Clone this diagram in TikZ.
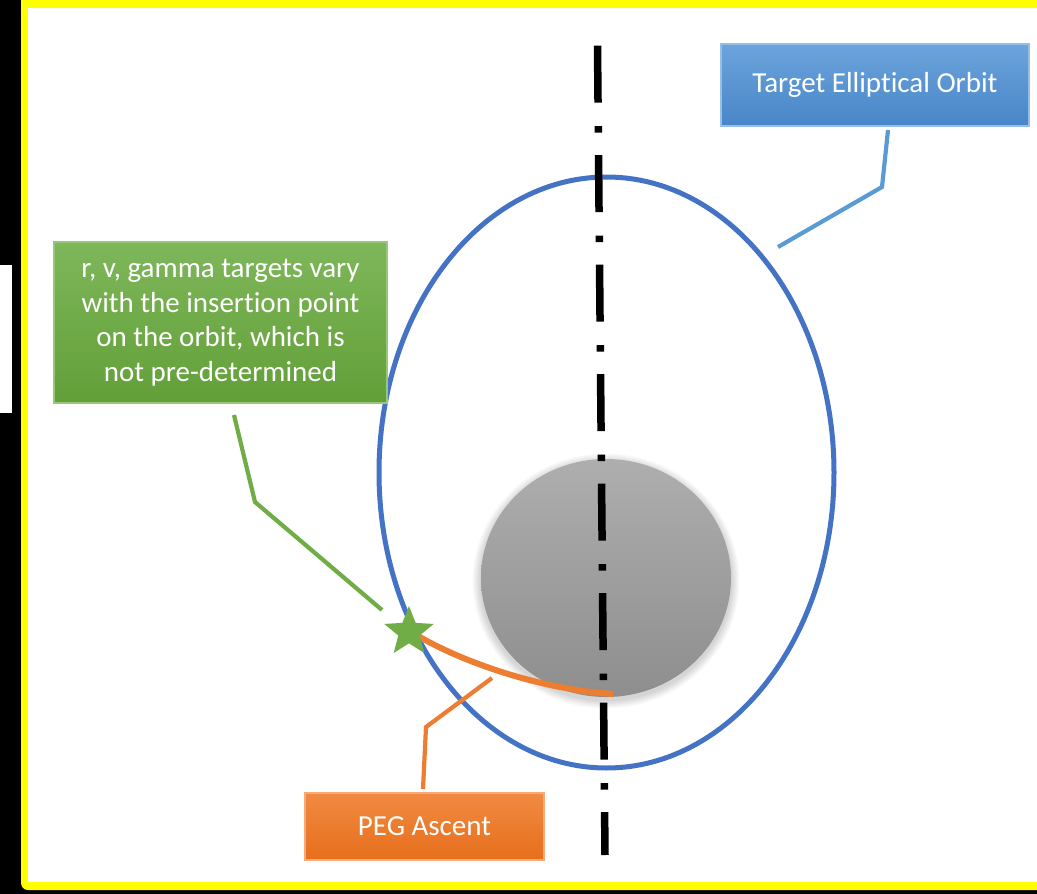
\documentclass[tikz,border=0pt]{standalone}
\usepackage{fontspec}
\setmainfont{Carlito}[Ligatures=NoCommon]
\usetikzlibrary{shapes.geometric,calc}
\definecolor{orbitblue}{RGB}{68,114,196}
\definecolor{callblue}{RGB}{91,155,213}
\definecolor{blueTop}{RGB}{108,164,220}
\definecolor{blueBot}{RGB}{72,134,200}
\definecolor{blueEdge}{RGB}{150,190,232}
\definecolor{ggreen}{RGB}{112,173,71}
\definecolor{greenTop}{RGB}{126,183,90}
\definecolor{greenBot}{RGB}{98,159,56}
\definecolor{greenEdge}{RGB}{150,200,120}
\definecolor{oorange}{RGB}{237,125,49}
\definecolor{orangeTop}{RGB}{241,138,66}
\definecolor{orangeBot}{RGB}{230,111,28}
\definecolor{orangeEdge}{RGB}{245,170,120}
\definecolor{frameyellow}{RGB}{255,255,0}
\definecolor{planetTop}{RGB}{174,174,174}
\definecolor{planetBot}{RGB}{142,142,142}
\tikzset{
  calloutbox/.style={rectangle, inner sep=0pt, align=center, text=white,
    font=\fontsize{29}{34.5}\selectfont, line width=1.2pt},
  bluebox/.style={calloutbox, top color=blueTop, bottom color=blueBot, draw=blueEdge,
    minimum width=308pt, minimum height=82pt},
  greenbox/.style={calloutbox, top color=greenTop, bottom color=greenBot, draw=greenEdge,
    minimum width=333pt, minimum height=161pt},
  orangebox/.style={calloutbox, top color=orangeTop, bottom color=orangeBot, draw=orangeEdge,
    minimum width=239pt, minimum height=67pt},
  callline/.style={line width=4.2pt},
  axisline/.style={black, line width=7.5pt, dash pattern=on 57pt off 23.5pt on 6.5pt off 22.5pt},
  orbitstyle/.style={ellipse, draw=orbitblue, line width=5pt, inner sep=0pt,
    minimum width=455pt, minimum height=591pt},
  planetstyle/.style={ellipse, inner sep=0pt, top color=planetTop, bottom color=planetBot,
    minimum width=250pt, minimum height=238pt},
  ascentline/.style={oorange, line width=6pt},
  insstar/.style={star, star points=5, star point ratio=2.3, fill=ggreen, inner sep=0pt,
    minimum size=52pt}
}
\begin{document}
\begin{tikzpicture}[x=1pt,y=-1pt]
\useasboundingbox (0,0) rectangle (1037,894);
% background and frame
\fill[black] (0,0) rectangle (1037,894);
\fill[frameyellow, rounded corners=7pt] (21,-12) rectangle (1070,890);
\fill[white] (28,8) rectangle (1070,882);
\fill[white] (0,265) rectangle (12,413);

% orbit
\node[orbitstyle] (orbit) at (606.5,472.5) {};

% planet with soft shadow
\foreach \i in {1,...,7}{
  \fill[black, opacity=0.025] (606,581) ellipse [x radius={125pt+\i*1.2pt}, y radius={119pt+\i*1.2pt}];
}
\node[planetstyle] (earth) at (606,578) {};

% axis
\coordinate (axtop) at (597.5,45.7);
\coordinate (axbot) at (605,855);
\draw[axisline] (axtop) -- (axbot);

% ascent trajectory
\coordinate (insp) at (409,632);
\coordinate (burnout) at (613,694);
\draw[ascentline] ($(insp)+(9,4)$) .. controls (470,666) and (548,690) .. (burnout);
\node[insstar] (ins) at (insp) {};

% boxes
\node[bluebox] (tgt) at (875,85) {Target Elliptical Orbit};
\node[greenbox] (rvg) at (220.5,322.5) {r, v, gamma targets vary\\with the insertion point\\on the orbit, which is\\not pre-determined};
\node[orangebox] (peg) at (424.5,826.5) {PEG Ascent};

% callout lines
\coordinate (b1) at (888,130);
\coordinate (b2) at (882,187);
\coordinate (b3) at (778,247);
\draw[callline, callblue] (b1) -- (b2) -- (b3);

\coordinate (g1) at (234,415);
\coordinate (g2) at (255,502);
\coordinate (g3) at (382,610);
\draw[callline, ggreen] (g1) -- (g2) -- (g3);

\coordinate (o1) at (423,789);
\coordinate (o2) at (426,727);
\coordinate (o3) at (492,678);
\draw[callline, oorange] (o1) -- (o2) -- (o3);
\end{tikzpicture}
\end{document}
